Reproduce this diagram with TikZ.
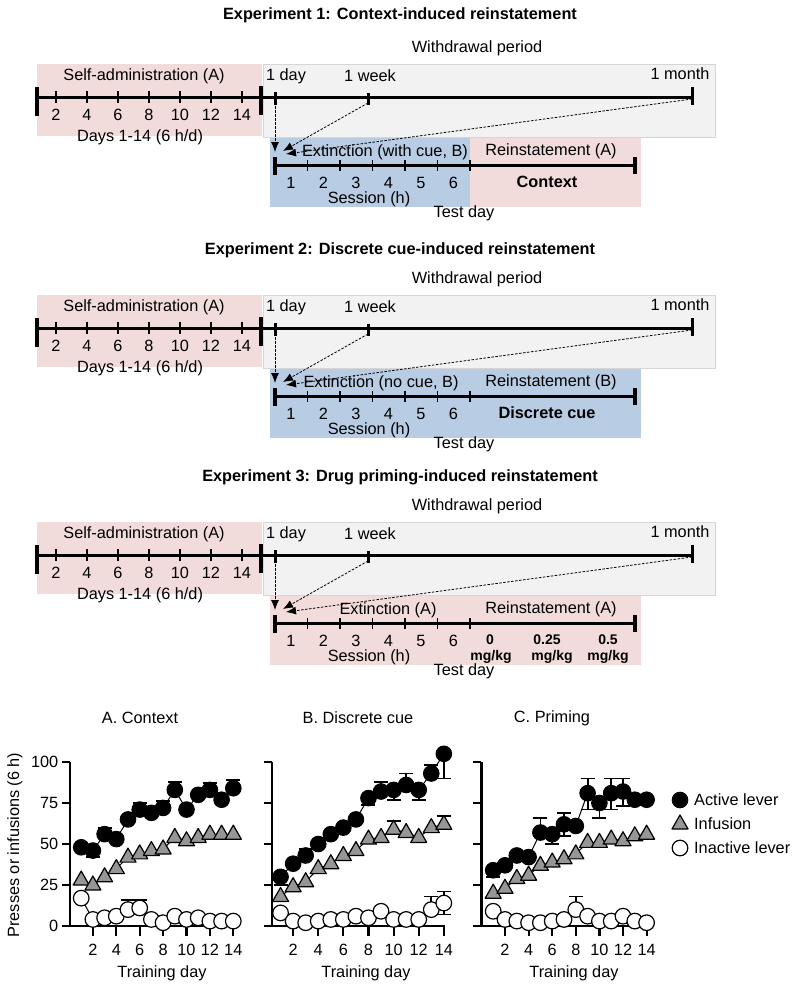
\documentclass[tikz,border=0pt]{standalone}
\usepackage{fontspec}
\setmainfont{Liberation Sans}
\usetikzlibrary{arrows.meta}

\definecolor{sapink}{RGB}{242,220,219}
\definecolor{extblue}{RGB}{184,204,228}
\definecolor{wdgray}{RGB}{242,242,242}
\definecolor{wdedge}{RGB}{214,214,214}
\definecolor{infgray}{RGB}{150,150,150}

\newcommand\serline[1]{\foreach \v [count=\d, remember=\v as \pv (initially 0)] in {#1} {\ifnum\d>1 \draw[dataline] (\d-1,\pv) -- (\d,\v);\fi}}
\newcommand\circmarks[2]{\foreach \v [count=\d] in {#2} {\filldraw[#1] (\d,\v) circle[radius=7.8pt];}}
\newcommand\trimarks[1]{\foreach \v [count=\d] in {#1} {\filldraw[infmark] (\d,\v) ++(0,9pt) -- ++(-8pt,-14pt) -- ++(16pt,0) -- cycle;}}
\newcommand\errbars[1]{\foreach \d/\a/\b in {#1} {\draw[errbar] (\d,\a) -- (\d,\b) ++(-7pt,0) -- ++(14pt,0);}}
\newcommand\plotframe[2]{%
  \draw[plotaxis] (#2,100) -- (#2,0) -- (14.1,0);
  \foreach \t in {0,25,...,100} \draw[plotaxis] (#2,\t) -- ++(-8pt,0);
  \foreach \t in {2,4,...,14} {\draw[plotaxis] (\t,0) -- ++(0,-10pt);
    \node[lab, yshift=-24pt] (xt#1-\t) at (\t,0) {\t};}}

\begin{document}
\begin{tikzpicture}[x=1pt,y=-1pt,
  lab/.style={font=\fontsize{16.3}{18}\selectfont, inner sep=0pt},
  boldlab/.style={lab, font=\fontsize{16.3}{18}\selectfont\bfseries},
  doselab/.style={inner sep=0pt, font=\fontsize{14}{16}\selectfont\bfseries},
  axisl/.style={line width=3pt},
  endtick/.style={line width=3.5pt},
  smalltick/.style={line width=1.8pt},
  wdarrow/.style={dash pattern=on 2.5pt off 1.5pt, line width=0.8pt, -{Latex[length=10pt,width=8pt]}},
  plotaxis/.style={line width=2.2pt},
  dataline/.style={line width=1pt},
  errbar/.style={line width=1.8pt},
  actmark/.style={fill=black, draw=black, line width=1pt},
  infmark/.style={fill=infgray, draw=black, line width=1.2pt, line join=round},
  inactmark/.style={fill=white, draw=black, line width=1.2pt}
]
\useasboundingbox (0,0) rectangle (800,991);

\foreach \e/\dy/\ty/\ttl/\ext/\ex/\cext/\crein/\rein/\rtxt in {
  1/0/15/{Experiment 1: Context-induced reinstatement}/{Extinction (with cue, B)}/385/extblue/sapink/{Reinstatement (A)}/{Context},
  2/231/250/{Experiment 2: Discrete cue-induced reinstatement}/{Extinction (no cue, B)}/381/extblue/extblue/{Reinstatement (B)}/{Discrete cue},
  3/458/477/{Experiment 3: Drug priming-induced reinstatement}/{Extinction (A)}/388/sapink/sapink/{Reinstatement (A)}/{}}{
  \node[boldlab] (title\e) at (400,\ty) {\ttl};
  \begin{scope}[shift={(0,\dy)}]
    \fill[sapink] (37,64) rectangle (262,136);
    \filldraw[fill=wdgray, draw=wdedge, line width=1pt] (263,64) rectangle (715,137);
    \fill[\cext] (270,138) rectangle (470,207);
    \fill[\crein] (470,138) rectangle (641,207);
    \coordinate (sa\e) at (37,97);
    \coordinate (month\e) at (692,97);
    \coordinate (ex\e) at (275,165);
    \coordinate (rn\e) at (635,165);
    \draw[axisl] (sa\e) -- (month\e);
    \draw[endtick] (37,87) -- (37,116);
    \draw[endtick] (261,86) -- (261,115);
    \draw[axisl] (275,92) -- (275,105);
    \draw[axisl] (368,93) -- (368,105);
    \draw[axisl] (692,87) -- (692,105);
    \foreach \i in {0,...,6} \draw[smalltick] ({56+31*\i},91) -- ({56+31*\i},103);
    \foreach \k [count=\i] in {2,4,...,14} \node[lab] (dl\e-\k) at ({56+31*(\i-1)},115) {\k};
    \draw[axisl] (ex\e) -- (rn\e);
    \draw[endtick] (275,157) -- (275,175);
    \draw[endtick] (635,157) -- (635,174);
    \foreach \i in {1,...,6} \draw[smalltick] ({275+32.5*\i},160) -- ({275+32.5*\i},171);
    \foreach \i in {1,...,6} \node[lab] (sl\e-\i) at ({258.5+32.5*\i},183) {\i};
    \coordinate (d1\e) at (275,106);
    \coordinate (w1\e) at (368,103);
    \coordinate (m1\e) at (692,99);
    \coordinate (ta\e) at (275,152);
    \coordinate (tb\e) at (283,151);
    \coordinate (tc\e) at (286,154);
    \draw[wdarrow] (d1\e) -- (ta\e);
    \draw[wdarrow] (w1\e) -- (tb\e);
    \draw[wdarrow] (m1\e) -- (tc\e);
    \node[lab] (wd\e) at (477,48) {Withdrawal period};
    \node[lab] (satxt\e) at (144,76) {Self-administration (A)};
    \node[lab] (daytxt\e) at (286,76) {1 day};
    \node[lab] (wktxt\e) at (370,76) {1 week};
    \node[lab] (motxt\e) at (680,74) {1 month};
    \node[lab] (days\e) at (140,137) {Days 1-14 (6 h/d)};
    \node[lab] (extxt\e) at (\ex,152) {\ext};
    \node[lab] (rntxt\e) at (551,151) {\rein};
    \node[boldlab] (cue\e) at (547,182) {\rtxt};
    \node[lab] (sess\e) at (369,199) {Session (h)};
    \node[lab] (test\e) at (464,213) {Test day};
  \end{scope}
}
\node[doselab] (dose0) at (490,640) {0};
\node[doselab] (unit0) at (491,657) {mg/kg};
\node[doselab] (dose1) at (547,640) {0.25};
\node[doselab] (unit1) at (552,657) {mg/kg};
\node[doselab] (dose2) at (608,640) {0.5};
\node[doselab] (unit2) at (608,657) {mg/kg};

\node[lab] (ttlA) at (140,718) {A. Context};
\node[lab] (ttlB) at (358,718) {B. Discrete cue};
\node[lab] (ttlC) at (552,718) {C. Priming};
\node[lab] (trA) at (162,973) {Training day};
\node[lab] (trB) at (366,973) {Training day};
\node[lab] (trC) at (574,973) {Training day};
\node[lab, rotate=90] (ylab) at (15,845) {Presses or infusions (6 h)};

\begin{scope}[xshift=69.5pt, yshift=-926pt, x=11.7pt, y=1.64pt]
  \plotframe{A}{0.04}
  \foreach \t in {0,25,...,100} \node[lab, anchor=east, xshift=-11pt] (yt\t) at (0,\t) {\t};
  \serline{48,46,56,53,65,71,69,72,83,71,80,83,77,84}
  \serline{28,25,30,35,42,44,46,47,54,52,54,56,56,56}
  \serline{17,4,5,6,10,11,4,2,6,4,5,3,3,3}
  \errbars{2/46/42, 3/56/60, 6/71/75, 8/72/76, 9/83/88, 12/83/87, 14/84/89, 5/10/16, 6/11/16}
  \circmarks{actmark}{48,46,56,53,65,71,69,72,83,71,80,83,77,84}
  \trimarks{28,25,30,35,42,44,46,47,54,52,54,56,56,56}
  \circmarks{inactmark}{17,4,5,6,10,11,4,2,6,4,5,3,3,3}
\end{scope}

\begin{scope}[xshift=268pt, yshift=-926pt, x=12.56pt, y=1.64pt]
  \plotframe{B}{0.32}
  \serline{30,38,43,50,56,60,65,78,82,83,86,83,93,105}
  \serline{18,24,27,35,38,43,46,53,54,59,57,54,60,62}
  \serline{8,3,2,3,4,4,6,5,9,4,4,4,10,14}
  \errbars{1/30/25, 3/43/47, 8/78/74, 9/82/88, 10/83/77, 11/86/93, 12/83/77, 13/93/98, 14/105/90, 10/59/64, 14/62/67, 13/10/18, 14/14/21, 14/14/7}
  \circmarks{actmark}{30,38,43,50,56,60,65,78,82,83,86,83,93,105}
  \trimarks{18,24,27,35,38,43,46,53,54,59,57,54,60,62}
  \circmarks{inactmark}{8,3,2,3,4,4,6,5,9,4,4,4,10,14}
\end{scope}

\begin{scope}[xshift=481.4pt, yshift=-926pt, x=11.8pt, y=1.64pt]
  \plotframe{C}{0}
  \serline{34,37,43,42,57,56,62,61,81,75,81,82,77,77}
  \serline{20,23,29,31,37,39,41,44,51,51,53,52,55,56}
  \serline{9,4,3,2,2,3,4,10,6,3,3,6,3,2}
  \errbars{1/34/30, 5/57/66, 6/56/50, 7/62/69, 7/62/55, 9/81/90, 9/81/71, 10/75/66, 11/81/90, 11/81/71, 12/82/90, 12/82/73, 8/10/18}
  \circmarks{actmark}{34,37,43,42,57,56,62,61,81,75,81,82,77,77}
  \trimarks{20,23,29,31,37,39,41,44,51,51,53,52,55,56}
  \circmarks{inactmark}{9,4,3,2,2,3,4,10,6,3,3,6,3,2}
\end{scope}

\filldraw[actmark] (680,800) circle[radius=7.8pt];
\filldraw[infmark] (680,824) ++(0,9pt) -- ++(-8pt,-14pt) -- ++(16pt,0) -- cycle;
\filldraw[inactmark] (680,848) circle[radius=7.8pt];
\node[lab, anchor=west] (legact) at (694,800) {Active lever};
\node[lab, anchor=west] (leginf) at (694,824) {Infusion};
\node[lab, anchor=west] (leginact) at (694,848) {Inactive lever};
\end{tikzpicture}
\end{document}
